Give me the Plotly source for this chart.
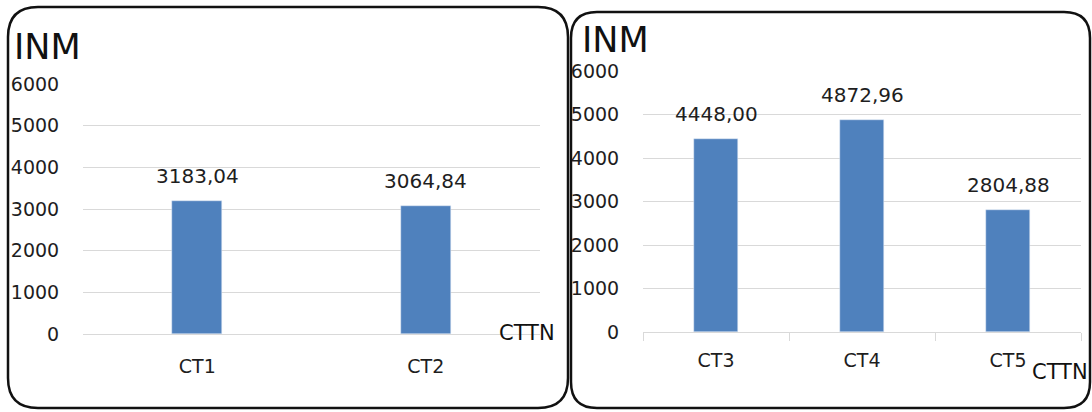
import plotly.graph_objects as go

# Values per group
left_categories = ["CT1", "CT2"]
left_values = [3183.04, 3064.84]
right_categories = ["CT3", "CT4", "CT5"]
right_values = [4448.00, 4872.96, 2804.88]
y_ticks = [0, 1000, 2000, 3000, 4000, 5000, 6000]
y_title = "INM"
x_title = "CTTN"

W, H = 1092, 412
FONT = "DejaVu Sans"
BAR = "#4f81bd"
GRID = "#d9d9d9"
TEXT = "#1e1e1e"


def px(x):
    return x / W


def py(y):
    return 1 - y / H


def rounded_box(x0, y0, x1, y1, r):
    """SVG path (paper coords) for a rounded rectangle given in pixels."""
    pts = [
        ("M", [(x0 + r, y0)]),
        ("L", [(x1 - r, y0)]),
        ("Q", [(x1, y0), (x1, y0 + r)]),
        ("L", [(x1, y1 - r)]),
        ("Q", [(x1, y1), (x1 - r, y1)]),
        ("L", [(x0 + r, y1)]),
        ("Q", [(x0, y1), (x0, y1 - r)]),
        ("L", [(x0, y0 + r)]),
        ("Q", [(x0, y0), (x0 + r, y0)]),
    ]
    out = []
    for cmd, coords in pts:
        out.append(cmd + " " + " ".join(f"{px(a):.5f},{py(b):.5f}" for a, b in coords))
    return " ".join(out) + " Z"


fig = go.Figure()

fig.add_trace(go.Bar(x=left_categories, y=left_values, marker_color=BAR,
                     width=0.22, xaxis="x", yaxis="y", showlegend=False,
                     hoverinfo="x+y"))
fig.add_trace(go.Bar(x=right_categories, y=right_values, marker_color=BAR,
                     width=0.30, xaxis="x2", yaxis="y2", showlegend=False,
                     hoverinfo="x+y"))

annotations = []
for cats, vals, xr, yr in [(left_categories, left_values, "x", "y"),
                           (right_categories, right_values, "x2", "y2")]:
    for c, v in zip(cats, vals):
        annotations.append(dict(
            x=c, y=v, xref=xr, yref=yr, text=f"{v:.2f}".replace(".", ","),
            showarrow=False, yanchor="bottom", yshift=11,
            font=dict(family=FONT, size=20, color=TEXT)))

# axis titles
annotations += [
    dict(x=px(12), y=py(47), xref="paper", yref="paper", text=y_title,
         showarrow=False, xanchor="left", yanchor="middle",
         font=dict(family=FONT, size=35, color="#111111")),
    dict(x=px(497), y=py(333), xref="paper", yref="paper", text=x_title,
         showarrow=False, xanchor="left", yanchor="middle",
         font=dict(family=FONT, size=21, color="#111111")),
    dict(x=px(580), y=py(40), xref="paper", yref="paper", text=y_title,
         showarrow=False, xanchor="left", yanchor="middle",
         font=dict(family=FONT, size=35, color="#111111")),
    dict(x=px(1030), y=py(372), xref="paper", yref="paper", text=x_title,
         showarrow=False, xanchor="left", yanchor="middle",
         font=dict(family=FONT, size=21, color="#111111")),
]

tick_font = dict(family=FONT, size=19, color=TEXT)
yaxis_common = dict(range=[0, 6000], tickvals=y_ticks, showgrid=True,
                    gridcolor=GRID, gridwidth=1, zeroline=True,
                    zerolinecolor=GRID, zerolinewidth=1, showline=False,
                    tickfont=tick_font, ticks="outside", ticklen=19,
                    tickcolor="rgba(0,0,0,0)", fixedrange=True,
                    automargin=False)

fig.update_layout(
    width=W, height=H,
    margin=dict(l=0, r=0, t=0, b=0, pad=0, autoexpand=False),
    paper_bgcolor="white", plot_bgcolor="white",
    separators=", ",
    bargap=0,
    xaxis=dict(domain=[px(83), px(540)], anchor="y", showgrid=False,
               showline=False, ticks="", tickfont=tick_font,
               ticklabelstandoff=19, fixedrange=True, automargin=False),
    yaxis=dict(domain=[py(334), py(84)], anchor="x", **yaxis_common),
    xaxis2=dict(domain=[px(643), px(1081)], anchor="y2", showgrid=False,
                showline=True, linecolor=GRID, linewidth=1,
                ticks="outside", tickson="boundaries", ticklen=8,
                tickcolor=GRID, tickfont=tick_font,
                ticklabelstandoff=11, fixedrange=True, automargin=False),
    yaxis2=dict(domain=[py(332), py(71)], anchor="x2", **yaxis_common),
    annotations=annotations,
    shapes=[
        dict(type="path", xref="paper", yref="paper",
             path=rounded_box(8, 7, 568, 408, 30),
             line=dict(color="#111111", width=2.5), layer="above"),
        dict(type="path", xref="paper", yref="paper",
             path=rounded_box(571, 12, 1090, 408, 26),
             line=dict(color="#111111", width=2.5), layer="above"),
    ],
)

fig.write_html("out.html")
